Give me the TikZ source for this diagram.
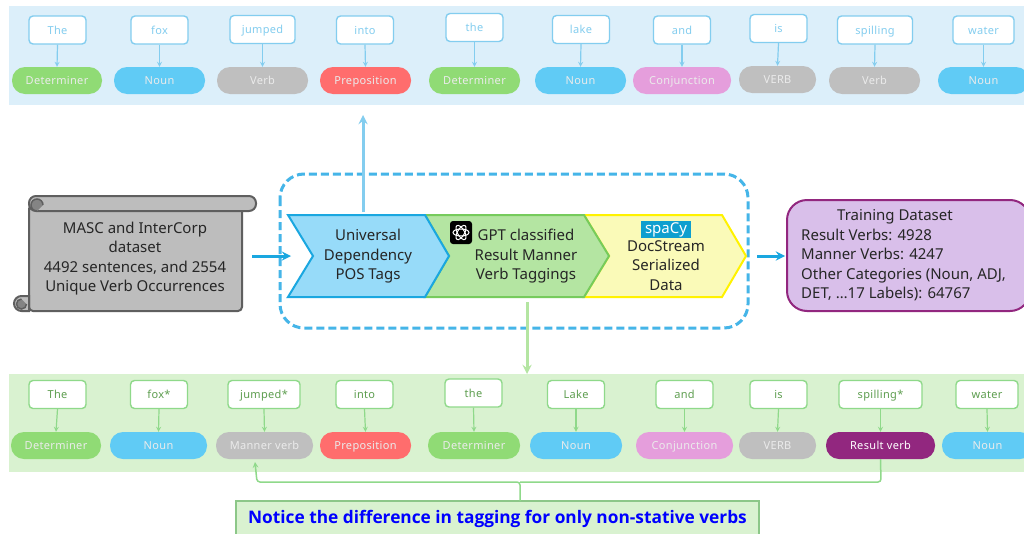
\documentclass[tikz,border=0pt]{standalone}
\usepackage{fontspec}
\setmainfont{Noto Sans}
\newfontfamily\chipfont[LetterSpace=3]{Noto Sans}
\newfontfamily\notefont{Open Sans}
\definecolor{bandblue}{HTML}{DCEFFA}
\definecolor{bandgreen}{HTML}{D9F2D0}
\definecolor{wireblue}{HTML}{83CDEF}
\definecolor{wiregreen}{HTML}{8FD98A}
\definecolor{inkgreen}{HTML}{5E9E50}
\definecolor{detgreen}{HTML}{90DB75}
\definecolor{nounblue}{HTML}{60CBF5}
\definecolor{verbgray}{HTML}{BFBFBF}
\definecolor{prepred}{HTML}{FF6D6D}
\definecolor{conjpink}{HTML}{E59EDC}
\definecolor{resultpurple}{HTML}{92277F}
\definecolor{flowblue}{HTML}{1AA7E0}
\definecolor{dashblue}{HTML}{45B5E8}
\definecolor{chevblue}{HTML}{97DBF9}
\definecolor{chevgreen}{HTML}{B4E5A2}
\definecolor{chevgreenline}{HTML}{76CB5C}
\definecolor{chevyellow}{HTML}{FAFAB8}
\definecolor{scrollgray}{HTML}{BDBDBD}
\definecolor{scrollline}{HTML}{5F5F5F}
\definecolor{trainfill}{HTML}{D9BFEA}
\definecolor{spacyblue}{HTML}{0E9FCF}
\tikzset{
    wordtop/.style={draw=wireblue, fill=white, text=wireblue, line width=1.4pt, rounded corners=4pt, minimum height=28pt, inner sep=0pt, text height=10pt, text depth=2pt, font=\chipfont\fontsize{11}{13}\selectfont},
    wordbot/.style={wordtop, draw=wiregreen, text=inkgreen},
    pill/.style={rounded corners=13pt, minimum height=27pt, inner sep=0pt, text height=10pt, text depth=2pt, text=white!92!black, font=\chipfont\fontsize{11}{13}\selectfont},
    wiretop/.style={draw=wireblue, line width=1.2pt, -stealth},
    wirebot/.style={draw=wiregreen, line width=1.2pt, -stealth},
    bodytext/.style={align=center, inner sep=0pt, text=black!85, font=\fontsize{15}{19.5}\selectfont},
}
\begin{document}
\begin{tikzpicture}[x=1pt, y=-1pt]
    \clip (0,0) rectangle (1024,533);
    \fill[white] (0,0) rectangle (1024,533);

    % top band
    \fill[bandblue] (9,6) rectangle (1024,105);
    \node[wordtop, minimum width=57pt] (t1) at (57.5,30) {The};
    \node[wordtop, minimum width=57pt] (t2) at (159.5,30) {fox};
    \node[wordtop, minimum width=65pt] (t3) at (262.5,29.5) {jumped};
    \node[wordtop, minimum width=57pt] (t4) at (365,30) {into};
    \node[wordtop, minimum width=57pt] (t5) at (474.5,27.5) {the};
    \node[wordtop, minimum width=57pt] (t6) at (581,29.5) {lake};
    \node[wordtop, minimum width=57pt] (t7) at (682,30) {and};
    \node[wordtop, minimum width=57pt] (t8) at (778.5,28.5) {is};
    \node[wordtop, minimum width=75pt] (t9) at (875,30) {spilling};
    \node[wordtop, minimum width=61pt] (t10) at (983.5,30) {water};

    \node[pill, fill=detgreen, minimum width=90pt] (p1) at (57,80.5) {Determiner};
    \node[pill, fill=nounblue, minimum width=91pt] (p2) at (159.5,80.5) {Noun};
    \node[pill, fill=verbgray, minimum width=91pt] (p3) at (262.5,80.5) {Verb};
    \node[pill, fill=prepred, minimum width=91pt] (p4) at (365.5,80.5) {Preposition};
    \node[pill, fill=detgreen, minimum width=91pt] (p5) at (474.5,80.5) {Determiner};
    \node[pill, fill=nounblue, minimum width=91pt] (p6) at (580.5,80.5) {Noun};
    \node[pill, fill=conjpink, minimum width=98pt] (p7) at (682,80.5) {Conjunction};
    \node[pill, fill=verbgray, minimum width=77pt] (p8) at (777.5,79.5) {VERB};
    \node[pill, fill=verbgray, minimum width=91pt] (p9) at (874.5,80.5) {Verb};
    \node[pill, fill=nounblue, minimum width=91pt] (p10) at (983.5,80.5) {Noun};

    \draw[wiretop] (t1.south) -- (p1.north);
    \draw[wiretop] (t2.south) -- (p2.north);
    \draw[wiretop] (t3.south) -- (p3.north);
    \draw[wiretop] (t4.south) -- (p4.north);
    \draw[wiretop] (t5.south) -- (p5.north);
    \draw[wiretop] (t6.south) -- (p6.north);
    \draw[wiretop] (t7.south) -- (p7.north);
    \draw[wiretop] (t8.south) -- (p8.north);
    \draw[wiretop] (t9.south) -- (p9.north);
    \draw[wiretop] (t10.south) -- (p10.north);

    % bottom band
    \fill[bandgreen] (9,374) rectangle (1024,472);
    \node[wordbot, minimum width=57pt] (w1) at (57.5,394.5) {The};
    \node[wordbot, minimum width=57pt] (w2) at (159,394.5) {fox*};
    \node[wordbot, minimum width=72pt] (w3) at (264,394.5) {jumped*};
    \node[wordbot, minimum width=57pt] (w4) at (364.5,394.5) {into};
    \node[wordbot, minimum width=57pt] (w5) at (473.5,393) {the};
    \node[wordbot, minimum width=57pt] (w6) at (576,394.5) {Lake};
    \node[wordbot, minimum width=57pt] (w7) at (684.5,394.5) {and};
    \node[wordbot, minimum width=57pt] (w8) at (778.5,394.5) {is};
    \node[wordbot, minimum width=83pt] (w9) at (880.5,394.5) {spilling*};
    \node[wordbot, minimum width=62pt] (w10) at (987,394.5) {water};

    \node[pill, fill=detgreen, minimum width=90pt] (m1) at (56,445.5) {Determiner};
    \node[pill, fill=nounblue, minimum width=97pt] (m2) at (158.5,445.5) {Noun};
    \node[pill, fill=verbgray, minimum width=97pt] (m3) at (264.5,445.5) {Manner verb};
    \node[pill, fill=prepred, minimum width=91pt] (m4) at (365.5,445.5) {Preposition};
    \node[pill, fill=detgreen, minimum width=92pt] (m5) at (474,445.5) {Determiner};
    \node[pill, fill=nounblue, minimum width=92pt] (m6) at (576,445.5) {Noun};
    \node[pill, fill=conjpink, minimum width=97pt] (m7) at (684.5,445.5) {Conjunction};
    \node[pill, fill=verbgray, minimum width=77pt] (m8) at (777.5,445.5) {VERB};
    \node[pill, fill=resultpurple, text=white, minimum width=109pt] (m9) at (880.5,445.5) {Result verb};
    \node[pill, fill=nounblue, minimum width=91pt] (m10) at (987.5,445.5) {Noun};

    \draw[wirebot] (w1.south) -- (m1.north);
    \draw[wirebot] (w2.south) -- (m2.north);
    \draw[wirebot] (w3.south) -- (m3.north);
    \draw[wirebot] (w4.south) -- (m4.north);
    \draw[wirebot] (w5.south) -- (m5.north);
    \draw[wirebot] (w6.south) -- (m6.north);
    \draw[wirebot] (w7.south) -- (m7.north);
    \draw[wirebot] (w8.south) -- (m8.north);
    \draw[wirebot] (w9.south) -- (m9.north);
    \draw[wirebot] (w10.south) -- (m10.north);

    % dashed frame
    \draw[dashblue, line width=3pt, dash pattern=on 8pt off 4pt, rounded corners=24pt] (280,174) rectangle (748,328);

    % scroll
    \draw[fill=scrollgray, draw=scrollline, line width=2pt, rounded corners=4pt] (29,205) -- (29,311) -- (242,311) -- (242,205) -- cycle;
    \draw[fill=scrollgray, draw=scrollline, line width=2pt, rounded corners=7pt] (29,196) rectangle (256,211);
    \draw[fill=scrollgray!70!black, draw=scrollline, line width=1.5pt] (37,211) arc (90:360:6);
    \draw[fill=scrollgray, draw=scrollline, line width=2pt] (29,296) -- (21.5,296) arc (270:90:7.5) -- (29,311) -- cycle;
    \draw[fill=scrollgray!70!black, draw=scrollline, line width=1.5pt] (26.5,304) arc (0:270:5);
    \node[bodytext] (src) at (135,258.5) {MASC and InterCorp\\dataset\\4492 sentences, and 2554\\Unique Verb Occurrences};

    % chevrons
    \draw[fill=chevyellow, draw=yellow, line width=2pt] (584,215) -- (722,215) -- (746,256) -- (722,297) -- (584,297) -- (609,256) -- cycle;
    \draw[fill=chevgreen, draw=chevgreenline, line width=2pt] (425,215) -- (584,215) -- (609,256) -- (584,297) -- (425,297) -- (449,256) -- cycle;
    \draw[fill=chevblue, draw=flowblue, line width=2pt] (288,215) -- (425,215) -- (449,256) -- (425,297) -- (288,297) -- (313,256) -- cycle;
    \node[bodytext] (pos) at (368,256.5) {Universal\\Dependency\\POS Tags};
    \node[bodytext] (gpt) at (526,256.5) {GPT classified\\Result Manner\\Verb Taggings};
    \node[bodytext] (doc) at (666,265.5) {DocStream\\Serialized\\Data};
    \node[fill=spacyblue, text=white, inner sep=0pt, minimum width=50pt, minimum height=17pt, font=\fontsize{15}{17}\selectfont] (spacy) at (666,229.5) {spaCy};
    \fill[black, rounded corners=3pt] (450,221) rectangle (472,244);
    \foreach \a in {0,60,120}
        \draw[white, line width=1pt, rotate around={\a:(461,232.5)}] (461,232.5) ellipse (8 and 3.5);

    % training box
    \node[draw=resultpurple, fill=trainfill, line width=2pt, rounded corners=20pt, minimum width=243pt, minimum height=111pt] (train) at (908.5,255.5) {};
    \node[bodytext] (traintitle) at (895,217) {Training Dataset};
    \node[bodytext, align=left, anchor=north west] (trainlist) at (801,228.5) {Result Verbs: 4928\\Manner Verbs: 4247\\Other Categories (Noun, ADJ,\\DET, \dots17 Labels): 64767};

    % flow arrows
    \coordinate (srcout) at (252,256);
    \coordinate (chevin) at (291,256);
    \coordinate (chevout) at (757,256);
    \coordinate (trainin) at (785,256);
    \coordinate (upfrom) at (363,212);
    \coordinate (upto) at (363,115);
    \coordinate (downfrom) at (527,302);
    \coordinate (downto) at (527,374);
    \draw[draw=flowblue, line width=3pt, -stealth] (srcout) -- (chevin);
    \draw[draw=flowblue, line width=3pt, -stealth] (chevout) -- (trainin);
    \draw[draw=wireblue, line width=3pt, -stealth] (upfrom) -- (upto);
    \draw[draw=chevgreen, line width=3pt, -stealth] (downfrom) -- (downto);

    % note
    \node[draw=wiregreen!80!gray, fill=bandgreen, line width=2pt, minimum width=523pt, minimum height=36pt, inner sep=0pt, text=blue, font=\notefont\bfseries\fontsize{17.3}{20}\selectfont] (note) at (497.5,519) {Notice the difference in tagging for only non-stative verbs};
    \coordinate (notetop) at (520,501);
    \coordinate (brjoin) at (520,482);
    \coordinate (brleft) at (257,482);
    \coordinate (brend) at (255,462);
    \coordinate (brright) at (881,482);
    \draw[draw=wiregreen, line width=1.5pt, rounded corners=3pt, -stealth] (notetop) -- (brjoin) -- (brleft) -- (brend);
    \draw[draw=wiregreen, line width=1.5pt, rounded corners=3pt] (brjoin) -- (brright) -- (m9.south);
\end{tikzpicture}
\end{document}
